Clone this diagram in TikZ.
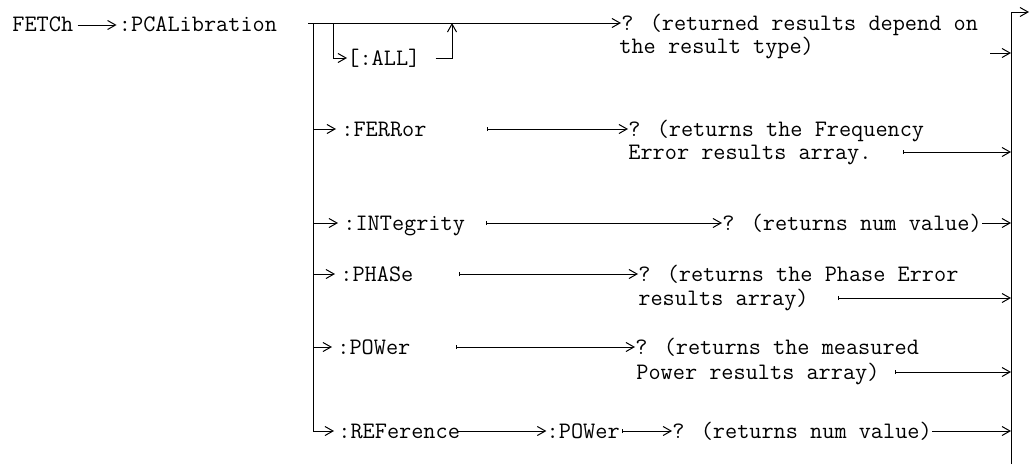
\documentclass[tikz,border=0pt]{standalone}
\usetikzlibrary{arrows.meta, positioning, calc}

\begin{document}
\begin{tikzpicture}[
    x=0.5pt, y=-0.5pt,
    cmd/.style={
        font=\ttfamily\fontsize{11.8}{14}\selectfont,
        inner sep=0pt, anchor=west, text height=7pt, text depth=0pt
    },
    arr/.style={-{Straight Barb[length=4pt, width=4.5pt]}, line width=0.5pt},
    tarr/.style={{Bar[width=2pt]}-{Straight Barb[length=4pt, width=4.5pt]}, line width=0.5pt}
]
\useasboundingbox (0,0) rectangle (1032,466);

% =============================================
% LEFT: FETCh -> :PCALibration
% =============================================
\node[cmd] (fetch) at (12,25) {FETCh};
\node[cmd, right=22.5pt of fetch] (pcal) {:PCALibration};
\draw[arr] ([xshift=2pt]fetch.east) -- ([xshift=-1pt]pcal.west);

% =============================================
% MAIN BUS: top line and the optional [:ALL]
% =============================================
\coordinate (tick) at (308,23);
\coordinate (busTop) at (313,23);
\coordinate (allFork) at (333,23);
\coordinate (allJoin) at (452,23);

\node[cmd] (top1) at (621,23) {? (returned results depend on};
\node[cmd] (top2) at (619,47) {the result type)};
\draw[arr] (tick) -- (top1.west);

\node[cmd] (all) at (347,58) {[:ALL]};
\draw[arr] (allFork) |- (all.west);
\draw[arr] ([xshift=7.5pt]all.east) -| (allJoin);

% branches off the bus
\node[cmd] (ferr) at (341,129) {:FERRor};
\node[cmd] (integ) at (343,223) {:INTegrity};
\node[cmd] (phase) at (340,274) {:PHASe};
\node[cmd] (power) at (337,347) {:POWer};
\node[cmd] (ref) at (338,431) {:REFerence};

\draw[arr] (busTop) |- ([xshift=-2pt]ref.west);
\foreach \n in {ferr, integ, phase, power}
    \draw[arr] (busTop |- \n.west) -- ([xshift=-2.5pt]\n.west);

% =============================================
% CENTER: returned values
% =============================================
\node[cmd] (ferrq1) at (628,129) {? (returns the Frequency};
\node[cmd] (ferrq2) at (628,152) {Error results array.};
\node[cmd] (intq) at (722,223) {? (returns num value)};
\node[cmd] (phq1) at (638,274) {? (returns the Phase Error};
\node[cmd] (phq2) at (638,298) {results array)};
\node[cmd] (powq1) at (635,347) {? (returns the measured};
\node[cmd] (powq2) at (636,372) {Power results array)};
\node[cmd, right=43pt of ref] (refpow) {:POWer};
\node[cmd, right=26pt of refpow] (refq) {? (returns num value)};

\draw[tarr] ([xshift=30pt]ferr.east) -- (ferrq1.west);
\draw[tarr] ([xshift=10.5pt]integ.east) -- (intq.west);
\draw[tarr] ([xshift=22.5pt]phase.east) -- (phq1.west);
\draw[tarr] ([xshift=22.5pt]power.east) -- (powq1.west);
\draw[arr] ([xshift=-1.5pt]ref.east) -- (refpow.west);
\draw[tarr] ([xshift=1pt]refpow.east) -- (refq.west);

% =============================================
% RIGHT: closing bus
% =============================================
\coordinate (rbusTop) at (1011,12);
\coordinate (rbusBot) at (1011,464);
\coordinate (outEnd) at (1029,12);
\coordinate (typeStub) at (990,53);

\draw[arr] (rbusBot) -- (rbusTop) -- (outEnd);
\draw[arr] (typeStub) -- (typeStub -| rbusTop);
\draw[tarr] ([xshift=15.5pt]ferrq2.east) -- (ferrq2.east -| rbusTop);
\draw[arr] (intq.east) -- (intq.east -| rbusTop);
\draw[tarr] ([xshift=14.5pt]phq2.east) -- (phq2.east -| rbusTop);
\draw[tarr] ([xshift=7.5pt]powq2.east) -- (powq2.east -| rbusTop);
\draw[arr] (refq.east) -- (refq.east -| rbusTop);

\end{tikzpicture}
\end{document}
